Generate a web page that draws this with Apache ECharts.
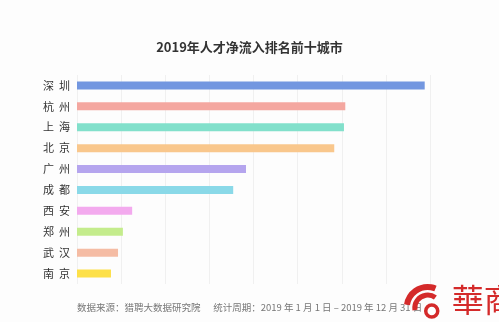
<!DOCTYPE html>
<html><head><meta charset="utf-8">
<script src="https://cdn.jsdelivr.net/npm/echarts@6/dist/echarts.min.js"></script>
<style>html,body{margin:0;padding:0;background:#fdfdfd}#c{width:499px;height:322px}</style>
</head><body><div id="c"></div>
<script>
var titleText = '2019年人才净流入排名前十城市';
var cities = ['深圳','杭州','上海','北京','广州','成都','西安','郑州','武汉','南京'];
var values = [7.88, 6.08, 6.05, 5.83, 3.83, 3.54, 1.25, 1.04, 0.93, 0.77];
var barColors = ['#7397e0','#f4a7a0','#82e0cb','#f9c78c','#b5a5ee','#8ad9e8','#f3aaee','#c4ec8c','#f5bca4','#fde048'];
var footnote = '数据来源：猎聘大数据研究院      统计周期：2019 年 1 月 1 日 – 2019 年 12 月 31 日';

var chart = echarts.init(document.getElementById('c'));
chart.setOption({
  backgroundColor: '#fdfdfd',
  animation: false,
  title: { text: titleText, left: 'center', top: 36,
    textStyle: { fontSize: 13, fontWeight: 'bold', color: '#333', fontFamily: 'Noto Sans CJK SC' } },
  grid: { left: 77, right: 69, top: 75, bottom: 38, containLabel: false },
  xAxis: { type: 'value', min: 0, max: 8, interval: 1,
    axisLabel: { show: false }, axisLine: { show: false }, axisTick: { show: false },
    splitLine: { lineStyle: { color: '#f0f0f0', width: 1 } } },
  yAxis: { type: 'category', data: cities, inverse: true,
    axisLine: { show: false }, axisTick: { show: false },
    axisLabel: { margin: 7, fontSize: 11, color: '#333', fontFamily: 'Noto Sans CJK SC',
      formatter: function (v) { return v.split('').join('  '); } } },
  series: [{ type: 'bar', barWidth: 8,
    data: values.map(function (v, i) { return { value: v, itemStyle: { color: barColors[i] } }; }) }],
  graphic: [
    { type: 'text', left: 77, top: 303,
      style: { text: footnote, fontSize: 9.5, fill: '#777', fontFamily: 'Noto Sans CJK SC' } },
    { type: 'group', left: 404, top: 284, z: 10, children: [
      { type: 'arc', shape: { cx: 26, cy: 24, r: 21, startAngle: Math.PI * 1.05, endAngle: Math.PI * 1.62 },
        style: { stroke: '#d42a2a', lineWidth: 6, fill: null } },
      { type: 'arc', shape: { cx: 26, cy: 24, r: 13, startAngle: Math.PI * 0.95, endAngle: Math.PI * 1.7 },
        style: { stroke: '#d42a2a', lineWidth: 5, fill: null } },
      { type: 'circle', shape: { cx: 30, cy: 27, r: 6 }, style: { fill: '#fff', stroke: '#d42a2a', lineWidth: 3.5 } },
      { type: 'text', x: 50, y: 0, style: { text: '華商', fontSize: 32, fill: '#d42a2a', fontFamily: 'Noto Sans CJK TC' } }
    ] }
  ]
});
</script></body></html>
